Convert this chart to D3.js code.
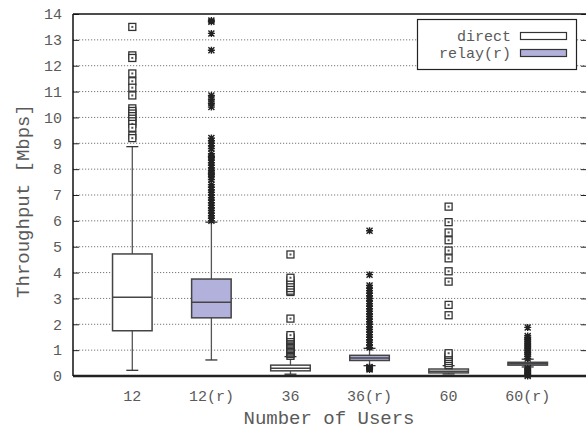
<!DOCTYPE html>
<html>
<head>
<meta charset="utf-8">
<script src="https://cdn.jsdelivr.net/npm/d3@7"></script>
<style>
  body { margin: 0; background: #fff; }
  text { font-family: "Liberation Mono", "Courier New", monospace; fill: #5a5a5a; }
</style>
</head>
<body>
<div id="chart"></div>
<script>
'use strict';
// categories and box statistics (Mbps)
var categories = ['12', '12(r)', '36', '36(r)', '60', '60(r)'];
var isRelay = [false, true, false, true, false, true];
var whiskerLow = [0.22, 0.62, 0.07, 0.40, 0.08, 0.35];
var quart1 = [1.75, 2.25, 0.20, 0.60, 0.12, 0.42];
var medians = [3.05, 2.85, 0.30, 0.70, 0.18, 0.47];
var quart3 = [4.72, 3.75, 0.42, 0.80, 0.27, 0.53];
var whiskerHigh = [8.87, 5.95, 0.75, 1.07, 0.40, 0.65];

var outliers12 = [13.5, 12.4, 12.3, 11.7, 11.4, 11.15, 10.85, 10.35, 10.25, 10.15, 10.05, 9.95,
  9.85, 9.75, 9.6, 9.3, 9.2];
var outliers12r = [13.75, 13.7, 13.25, 12.6, 10.85, 10.7, 10.55, 10.4, 9.2, 9.1, 9.0, 8.9, 8.8,
  8.6, 8.5, 8.45, 8.35, 8.25, 8.15, 8.05, 7.95, 7.85, 7.8, 7.7, 7.6, 7.4, 7.3, 7.2, 7.1, 7.0,
  6.9, 6.8, 6.7, 6.6, 6.5, 6.4, 6.3, 6.2, 6.1, 6.0];
var outliers36 = [0.78, 0.85, 0.9, 0.95, 1.0, 1.05, 1.1, 1.15, 1.2, 1.25, 1.3, 1.35, 1.4, 1.45,
  1.5, 1.58, 2.22, 3.25, 3.3, 3.4, 3.5, 3.6, 3.7, 3.8, 4.7];
var outliers36r = [0.25, 0.28, 0.3, 0.33, 0.35, 1.1, 1.2, 1.3, 1.4, 1.5, 1.6, 1.7, 1.8, 1.9, 2.0,
  2.1, 2.2, 2.3, 2.4, 2.5, 2.6, 2.7, 2.8, 2.9, 3.0, 3.1, 3.2, 3.3, 3.4, 3.5, 3.92, 5.62];
var outliers60 = [0.42, 0.5, 0.58, 0.66, 0.74, 0.82, 0.88, 2.35, 2.75, 3.65, 4.05, 4.55, 4.85,
  5.25, 5.55, 5.95, 6.55];
var outliers60r = [0.0, 0.05, 0.1, 0.15, 0.2, 0.25, 0.3, 0.68, 0.76, 0.84, 0.92, 1.0, 1.08,
  1.16, 1.24, 1.32, 1.4, 1.48, 1.55, 1.88];
var outliers = [outliers12, outliers12r, outliers36, outliers36r, outliers60, outliers60r];

var yTicks = [0, 1, 2, 3, 4, 5, 6, 7, 8, 9, 10, 11, 12, 13, 14];
var legendLabels = ['direct', 'relay(r)'];

(function () {
  var W = 586, H = 430;
  var pLeft = 73, pRight = 587, pTop = 14, pBottom = 376;
  var relayFill = '#b1b1dc';
  var strokeCol = '#444';

  var svg = d3.select('#chart').append('svg')
    .attr('width', W)
    .attr('height', H);

  var x = d3.scaleLinear().domain([0.25, categories.length + 0.75]).range([pLeft, pRight]);
  var y = d3.scaleLinear().domain([0, 14]).range([pBottom, pTop]);
  var boxW = x(1.5) - x(1);

  // grid lines
  svg.append('g').selectAll('line')
    .data(yTicks.filter(function(d) { return d > 0 && d < 14; }))
    .enter().append('line')
    .attr('x1', pLeft).attr('x2', pRight)
    .attr('y1', function(d) { return y(d); })
    .attr('y2', function(d) { return y(d); })
    .attr('stroke', '#555')
    .attr('stroke-width', 0.8)
    .attr('stroke-dasharray', '1.2,1.8');

  // left axis with inward ticks
  var yAxis = svg.append('g')
    .attr('transform', 'translate(' + pLeft + ',0)')
    .call(d3.axisLeft(y).tickValues(yTicks).tickSize(-6).tickPadding(11));
  yAxis.select('.domain').remove();
  yAxis.selectAll('line').attr('stroke', '#222');
  yAxis.selectAll('text').style('font-size', '15px').attr('fill', '#5a5a5a')
    .style('font-family', '"Liberation Mono", "Courier New", monospace');

  // right ticks
  var yAxisR = svg.append('g')
    .attr('transform', 'translate(' + pRight + ',0)')
    .call(d3.axisRight(y).tickValues(yTicks).tickSize(-6).tickFormat(''));
  yAxisR.select('.domain').remove();
  yAxisR.selectAll('line').attr('stroke', '#222');

  // x labels
  svg.append('g').selectAll('text')
    .data(categories)
    .enter().append('text')
    .attr('x', function(d, i) { return x(i + 1); })
    .attr('y', 401)
    .attr('text-anchor', 'middle')
    .style('font-size', '15px')
    .text(function(d) { return d; });

  // boxes
  var groups = svg.append('g').selectAll('g')
    .data(categories)
    .enter().append('g');

  groups.append('line')
    .attr('x1', function(d, i) { return x(i + 1); })
    .attr('x2', function(d, i) { return x(i + 1); })
    .attr('y1', function(d, i) { return y(whiskerLow[i]); })
    .attr('y2', function(d, i) { return y(whiskerHigh[i]); })
    .attr('stroke', '#555').attr('stroke-width', 1.3);

  [whiskerLow, whiskerHigh].forEach(function(arr) {
    groups.append('line')
      .attr('x1', function(d, i) { return x(i + 1) - 6; })
      .attr('x2', function(d, i) { return x(i + 1) + 6; })
      .attr('y1', function(d, i) { return y(arr[i]); })
      .attr('y2', function(d, i) { return y(arr[i]); })
      .attr('stroke', '#333').attr('stroke-width', 1.3);
  });

  groups.append('rect')
    .attr('x', function(d, i) { return x(i + 1) - boxW / 2; })
    .attr('width', boxW)
    .attr('y', function(d, i) { return y(quart3[i]); })
    .attr('height', function(d, i) { return y(quart1[i]) - y(quart3[i]); })
    .attr('fill', function(d, i) { return isRelay[i] ? relayFill : '#fff'; })
    .attr('stroke', strokeCol)
    .attr('stroke-width', 1.5);

  groups.append('line')
    .attr('x1', function(d, i) { return x(i + 1) - boxW / 2; })
    .attr('x2', function(d, i) { return x(i + 1) + boxW / 2; })
    .attr('y1', function(d, i) { return y(medians[i]); })
    .attr('y2', function(d, i) { return y(medians[i]); })
    .attr('stroke', strokeCol).attr('stroke-width', 1.5);

  // outlier points
  var pts = [];
  outliers.forEach(function(list, i) {
    list.forEach(function(v) { pts.push({ cat: i, v: v }); });
  });

  var pg = svg.append('g').selectAll('g')
    .data(pts)
    .enter().append('g')
    .attr('transform', function(d) { return 'translate(' + x(d.cat + 1) + ',' + y(d.v) + ')'; });

  pg.filter(function(d) { return !isRelay[d.cat]; }).each(function() {
    var g = d3.select(this);
    g.append('rect').attr('x', -3.5).attr('y', -3.5).attr('width', 7).attr('height', 7)
      .attr('fill', '#fff').attr('stroke', '#333').attr('stroke-width', 1.3);
    g.append('rect').attr('x', -1).attr('y', -1).attr('width', 2).attr('height', 2)
      .attr('fill', '#555');
  });

  pg.filter(function(d) { return isRelay[d.cat]; }).append('path')
    .attr('d', 'M-3.5,0H3.5M0,-3.5V3.5M-3,-3L3,3M-3,3L3,-3')
    .attr('stroke', '#222').attr('stroke-width', 1.4);

  // frame
  svg.append('line').attr('x1', pLeft).attr('x2', pRight).attr('y1', pTop).attr('y2', pTop)
    .attr('stroke', '#111').attr('stroke-width', 1.5);
  svg.append('line').attr('x1', pLeft).attr('x2', pRight).attr('y1', pBottom).attr('y2', pBottom)
    .attr('stroke', '#222').attr('stroke-width', 2.5);
  svg.append('line').attr('x1', pLeft).attr('x2', pLeft).attr('y1', pTop).attr('y2', pBottom)
    .attr('stroke', '#111').attr('stroke-width', 1.5);
  svg.append('line').attr('x1', pRight).attr('x2', pRight).attr('y1', pTop).attr('y2', pBottom)
    .attr('stroke', '#111').attr('stroke-width', 1.5);

  // legend
  var lg = svg.append('g');
  lg.append('rect').attr('x', 417.5).attr('y', 19.5).attr('width', 159).attr('height', 50)
    .attr('fill', '#fff').attr('stroke', '#222').attr('stroke-width', 1.2);
  legendLabels.forEach(function(name, i) {
    lg.append('text').attr('x', 511).attr('y', 41 + i * 17)
      .attr('text-anchor', 'end').style('font-size', '15px').text(name);
    lg.append('rect').attr('x', 520.5).attr('y', 32.5 + i * 17).attr('width', 46).attr('height', 7)
      .attr('fill', i === 1 ? relayFill : '#fff').attr('stroke', '#333').attr('stroke-width', 1.2);
  });

  // axis titles
  svg.append('text')
    .attr('transform', 'translate(29,' + ((pTop + pBottom) / 2 + 6) + ') rotate(-90)')
    .attr('text-anchor', 'middle')
    .style('font-size', '19px')
    .text('Throughput [Mbps]');
  svg.append('text')
    .attr('x', 329).attr('y', 424)
    .attr('text-anchor', 'middle')
    .style('font-size', '19px')
    .text('Number of Users');
})();
</script>
</body>
</html>
